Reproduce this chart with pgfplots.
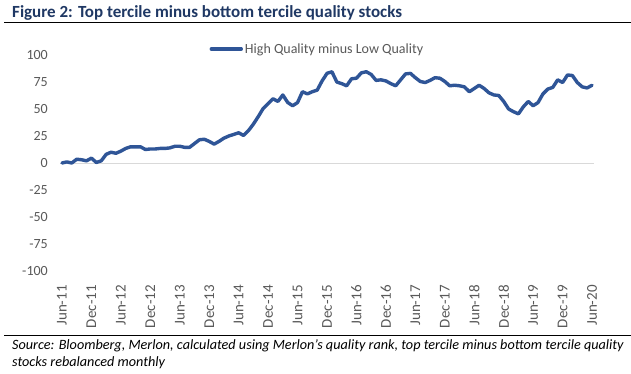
\documentclass[border=0pt]{standalone}
\usepackage{pgfplots}
\pgfplotsset{compat=1.18}
\usepackage{fontspec}
\setmainfont{Carlito}
\definecolor{lineblue}{RGB}{47,85,151}
\definecolor{titleblue}{RGB}{31,56,100}
\definecolor{ticklab}{RGB}{89,89,89}
\definecolor{zerogray}{RGB}{217,217,217}
\begin{document}
\begin{tikzpicture}
\fill[white] (0,0) rectangle (631pt,373pt);
\useasboundingbox (0,0) rectangle (631pt,373pt);
\node[anchor=base west, inner sep=0pt, text=titleblue, font=\fontsize{17}{19}\selectfont\bfseries] at (12pt,355pt) {Figure 2: Top tercile minus bottom tercile quality stocks};
\draw[black, line width=1pt] (4pt,350pt) -- (631pt,350pt);
\begin{axis}[
  at={(60pt,102pt)}, anchor=south west,
  scale only axis, width=534pt, height=216pt,
  xmin=-0.4, xmax=108.4, ymin=-100, ymax=100,
  axis line style={draw=none},
  major tick length=0pt,
  ytick={-100,-75,...,100},
  xtick={0,6,...,108},
  xticklabels={Jun-11,Dec-11,Jun-12,Dec-12,Jun-13,Dec-13,Jun-14,Dec-14,Jun-15,Dec-15,Jun-16,Dec-16,Jun-17,Dec-17,Jun-18,Dec-18,Jun-19,Dec-19,Jun-20},
  xticklabel shift=14pt,
  xticklabel style={rotate=90, anchor=east, inner sep=0pt, font=\fontsize{15}{17}\selectfont, text=ticklab},
  yticklabel style={anchor=east, inner sep=0pt, xshift=-12pt, font=\fontsize{14}{16}\selectfont, text=ticklab},
  /pgf/number format/assume math mode=true,
  extra y ticks={0}, extra y tick labels={},
  extra y tick style={grid=major, major grid style={zerogray, line width=1pt}},
  legend style={draw=none, fill=none, at={(0.482,1.028)}, anchor=center, font=\fontsize{14}{16}\selectfont, text=ticklab, inner sep=0pt},
  legend image code/.code={\draw[#1, line width=3.4pt] (0pt,0pt) -- (30pt,0pt);},
  legend cell align=left,
  clip=false,
]
\addplot[lineblue, line width=3.4pt, line join=round, line cap=round] coordinates {
(0,0) (1,1) (2,0) (3,3.5) (4,3) (5,2) (6,4.5) (7,0.5) (8,2) (9,8)
(10,10) (11,9) (12,11) (13,13.5) (14,15) (15,15) (16,15) (17,12.5) (18,13) (19,13)
(20,13.5) (21,13.5) (22,14) (23,15.5) (24,15.5) (25,14.5) (26,14.5) (27,18) (28,21.5) (29,22)
(30,20) (31,17.5) (32,20) (33,23) (34,25) (35,26.5) (36,28) (37,25.5) (38,30) (39,36)
(40,43) (41,50.5) (42,55) (43,59.5) (44,57) (45,63) (46,56) (47,53) (48,56) (49,66)
(50,64) (51,66) (52,67.5) (53,76) (54,83) (55,84.5) (56,75) (57,73.5) (58,71.5) (59,78)
(60,78.5) (61,83.5) (62,84.5) (63,82) (64,76.5) (65,77) (66,76) (67,73.5) (68,71.5) (69,77)
(70,82.5) (71,83) (72,79) (73,75.5) (74,74.5) (75,76.5) (76,79) (77,78.5) (78,75.5) (79,71.5)
(80,72) (81,71.5) (82,70.5) (83,66) (84,69) (85,72) (86,69) (87,65) (88,63) (89,62.5)
(90,57) (91,50) (92,47.5) (93,45.5) (94,52) (95,57) (96,53) (97,56) (98,64) (99,68.5)
(100,70) (101,77) (102,74.5) (103,81.5) (104,81) (105,74.5) (106,70.5) (107,69.5) (108,72)
};
\addlegendentry{High Quality minus Low Quality}
\end{axis}
\draw[black, line width=1pt] (4pt,38pt) -- (631pt,38pt);
\node[anchor=base west, inner sep=0pt, font=\fontsize{14.2}{16}\selectfont\itshape] at (12pt,24pt) {Source: Bloomberg, Merlon, calculated using Merlon’s quality rank, top tercile minus bottom tercile quality};
\node[anchor=base west, inner sep=0pt, font=\fontsize{14.2}{16}\selectfont\itshape] at (12pt,7pt) {stocks rebalanced monthly};
\end{tikzpicture}
\end{document}
